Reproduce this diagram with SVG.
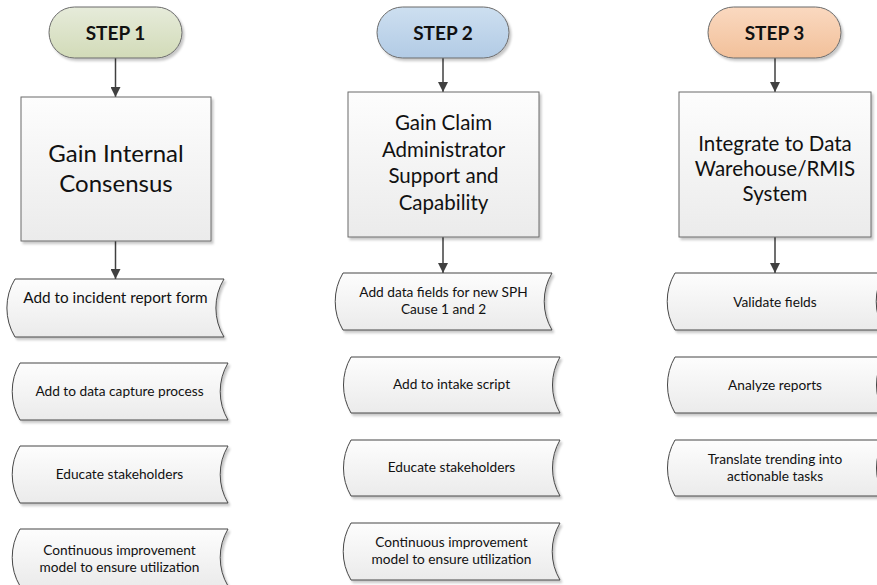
<svg xmlns="http://www.w3.org/2000/svg" width="877" height="585" viewBox="0 0 877 585">
<defs>
<linearGradient id="gGreen" x1="0" y1="0" x2="0" y2="1"><stop offset="0" stop-color="#e6ebda"/><stop offset="1" stop-color="#d2dbb8"/></linearGradient>
<linearGradient id="gBlue" x1="0" y1="0" x2="0" y2="1"><stop offset="0" stop-color="#cddff0"/><stop offset="1" stop-color="#b2cbe5"/></linearGradient>
<linearGradient id="gPeach" x1="0" y1="0" x2="0" y2="1"><stop offset="0" stop-color="#fad9c0"/><stop offset="1" stop-color="#f2c09a"/></linearGradient>
<linearGradient id="gGrey" x1="0" y1="0" x2="0" y2="1"><stop offset="0" stop-color="#fdfdfd"/><stop offset="1" stop-color="#ebebeb"/></linearGradient>
<filter id="sh" x="-10%" y="-10%" width="130%" height="130%"><feDropShadow dx="2" dy="2.5" stdDeviation="1.2" flood-color="#000" flood-opacity="0.22"/></filter>
<marker id="ah" viewBox="0 0 10 10" refX="10" refY="5" markerWidth="10" markerHeight="10" markerUnits="userSpaceOnUse" orient="auto"><path d="M0,0 L10,5 L0,10 z" fill="#404040"/></marker>
</defs>
<style>
.term{stroke:#6b6b6b;stroke-width:1;filter:url(#sh)}
.box{fill:url(#gGrey);stroke:#6b6b6b;stroke-width:1;filter:url(#sh)}
.doc{fill:url(#gGrey);stroke:#474747;stroke-width:1;filter:url(#sh)}
.tt{font-family:Lato,"Liberation Sans",sans-serif;font-weight:bold;font-size:19px;fill:#111;text-anchor:middle}
.bt{font-family:Lato,"Liberation Sans",sans-serif;font-size:20.5px;fill:#111;text-anchor:middle}
.bt1{font-size:24px}
.dt{font-family:Lato,"Liberation Sans",sans-serif;font-size:13.7px;fill:#111;text-anchor:middle}
.dt1{font-size:15.3px}
.conn{stroke:#404040;stroke-width:1.5;fill:none;marker-end:url(#ah)}
</style>
<g id="connectors">
<line class="conn" x1="115.5" y1="58" x2="115.5" y2="97"/>
<line class="conn" x1="115.5" y1="241" x2="115.5" y2="279"/>
<line class="conn" x1="443" y1="58" x2="443" y2="92"/>
<line class="conn" x1="443" y1="237" x2="443" y2="273"/>
<line class="conn" x1="775" y1="58" x2="775" y2="92"/>
<line class="conn" x1="775" y1="237" x2="775" y2="273"/>
</g>
<g id="step1"><rect class="term" x="49" y="7" width="133" height="51" rx="25.5" fill="url(#gGreen)"/><text class="tt" x="115.5" y="40">STEP 1</text></g>
<g id="step2"><rect class="term" x="377" y="7" width="132" height="51" rx="25.5" fill="url(#gBlue)"/><text class="tt" x="443" y="40">STEP 2</text></g>
<g id="step3"><rect class="term" x="708" y="7" width="133" height="51" rx="25.5" fill="url(#gPeach)"/><text class="tt" x="774.5" y="40">STEP 3</text></g>
<g id="box1"><rect class="box" x="21" y="97" width="190" height="144"/><text class="bt bt1" x="116" y="162">Gain Internal</text><text class="bt bt1" x="116" y="192">Consensus</text></g>
<g id="box2"><rect class="box" x="348" y="92" width="191" height="145"/><text class="bt" x="443.5" y="130">Gain Claim</text><text class="bt" x="443.5" y="156.5">Administrator</text><text class="bt" x="443.5" y="183">Support and</text><text class="bt" x="443.5" y="209.5">Capability</text></g>
<g id="box3"><rect class="box" x="679" y="92" width="192" height="145"/><text class="bt" x="775" y="151">Integrate to Data</text><text class="bt" x="775" y="176">Warehouse/RMIS</text><text class="bt" x="775" y="201">System</text></g>
<g id="doc1a"><path class="doc" d="M15,279 H224 A56,56 0 0 0 224,337 H15 A56,56 0 0 1 15,279 Z"/><text class="dt dt1" x="115.5" y="303">Add to incident report form</text></g>
<g id="doc1b"><path class="doc" d="M20,363 H228 A56,56 0 0 0 228,420 H20 A56,56 0 0 1 20,363 Z"/><text class="dt" x="119.5" y="396">Add to data capture process</text></g>
<g id="doc1c"><path class="doc" d="M20,446 H228 A56,56 0 0 0 228,503 H20 A56,56 0 0 1 20,446 Z"/><text class="dt" x="119.5" y="479">Educate stakeholders</text></g>
<g id="doc1d"><path class="doc" d="M20,529 H228 A56,56 0 0 0 228,586 H20 A56,56 0 0 1 20,529 Z"/><text class="dt" x="119.5" y="555">Continuous improvement</text><text class="dt" x="119.5" y="572">model to ensure utilization</text></g>
<g id="doc2a"><path class="doc" d="M343,273 H552 A56,56 0 0 0 552,330 H343 A56,56 0 0 1 343,273 Z"/><text class="dt" x="443.5" y="297">Add data fields for new SPH</text><text class="dt" x="443.5" y="314">Cause 1 and 2</text></g>
<g id="doc2b"><path class="doc" d="M351,357 H560 A56,56 0 0 0 560,413 H351 A56,56 0 0 1 351,357 Z"/><text class="dt" x="451.5" y="389">Add to intake script</text></g>
<g id="doc2c"><path class="doc" d="M351,440 H560 A56,56 0 0 0 560,496 H351 A56,56 0 0 1 351,440 Z"/><text class="dt" x="451.5" y="472">Educate stakeholders</text></g>
<g id="doc2d"><path class="doc" d="M351,523 H560 A56,56 0 0 0 560,580 H351 A56,56 0 0 1 351,523 Z"/><text class="dt" x="451.5" y="547">Continuous improvement</text><text class="dt" x="451.5" y="564">model to ensure utilization</text></g>
<g id="doc3a"><path class="doc" d="M675,273 H884 A56,56 0 0 0 884,330 H675 A56,56 0 0 1 675,273 Z"/><text class="dt" x="775" y="307">Validate fields</text></g>
<g id="doc3b"><path class="doc" d="M675,357 H884 A56,56 0 0 0 884,413 H675 A56,56 0 0 1 675,357 Z"/><text class="dt" x="775" y="390">Analyze reports</text></g>
<g id="doc3c"><path class="doc" d="M675,440 H884 A56,56 0 0 0 884,496 H675 A56,56 0 0 1 675,440 Z"/><text class="dt" x="775" y="464">Translate trending into</text><text class="dt" x="775" y="481">actionable tasks</text></g>
</svg>
